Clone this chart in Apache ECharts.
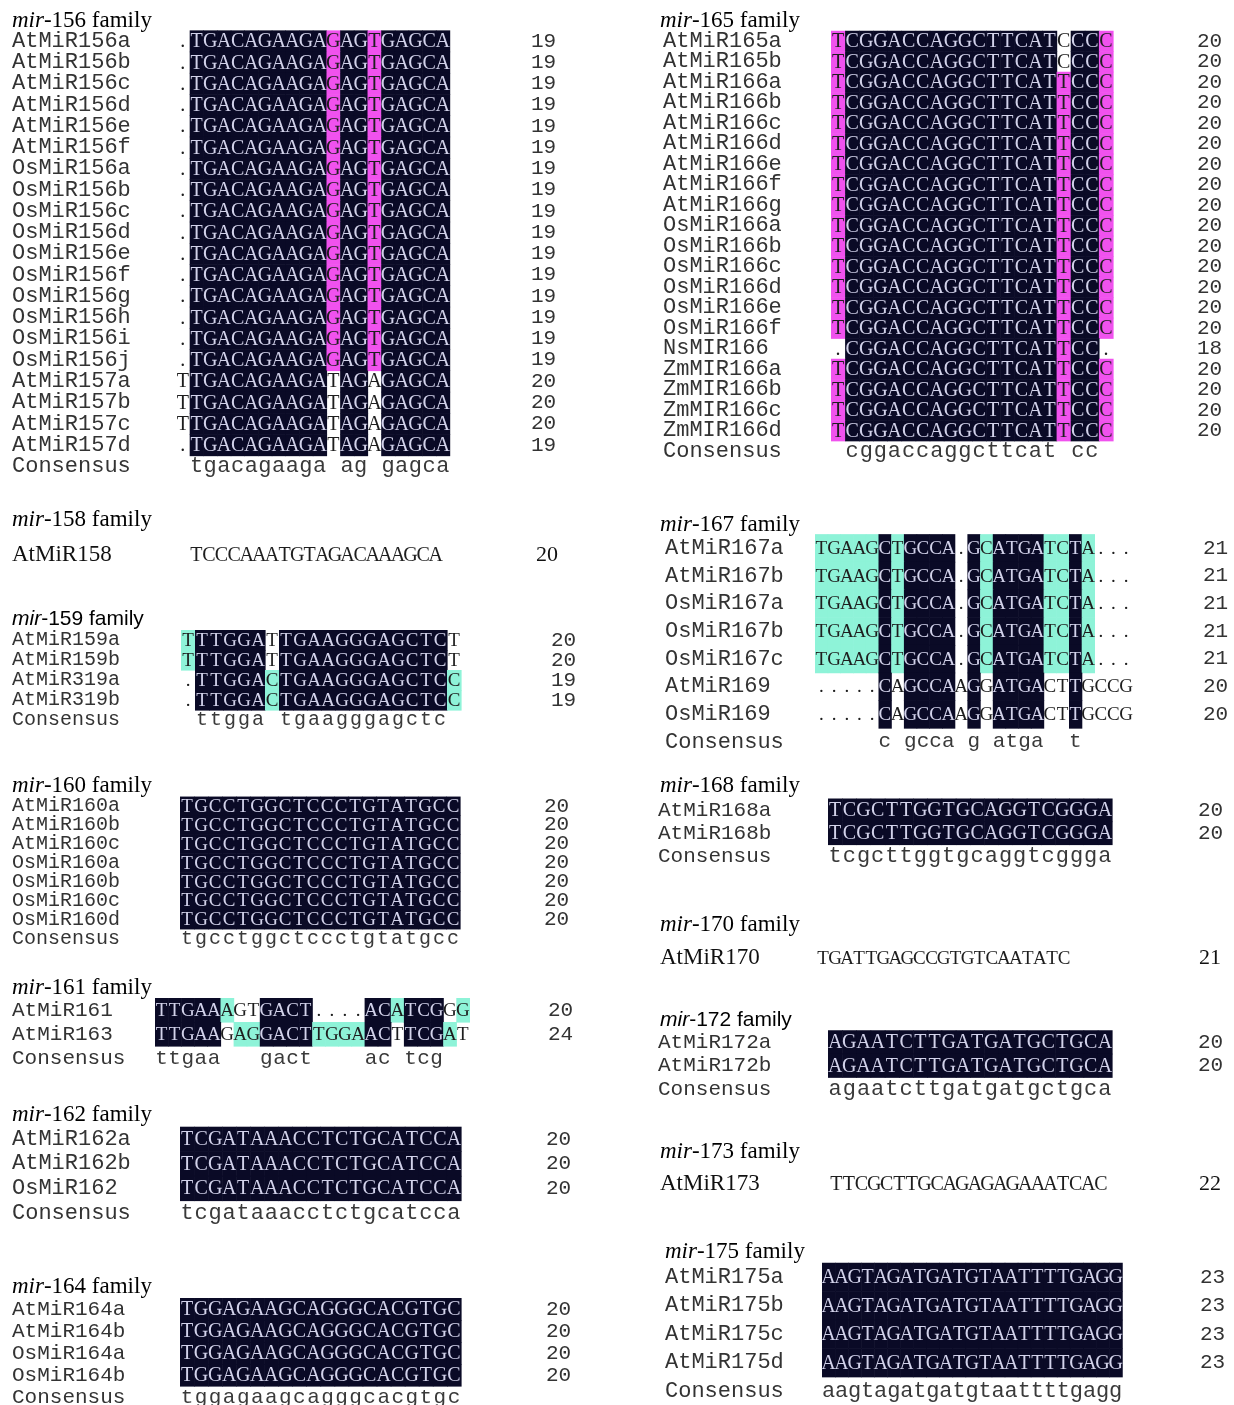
<!DOCTYPE html>
<html><head><meta charset="utf-8">
<script src="https://cdn.jsdelivr.net/npm/echarts/dist/echarts.min.js"></script>
<style>html,body{margin:0;padding:0;background:#fff}#c{width:1234px;height:1405px}</style>
</head><body><div id="c"></div>
<script>
// ---------------- DATA ----------------
const title156 = 'mir-156 family';
const names156 = ['AtMiR156a','AtMiR156b','AtMiR156c','AtMiR156d','AtMiR156e','AtMiR156f','OsMiR156a','OsMiR156b','OsMiR156c','OsMiR156d','OsMiR156e','OsMiR156f','OsMiR156g','OsMiR156h','OsMiR156i','OsMiR156j','AtMiR157a','AtMiR157b','AtMiR157c','AtMiR157d'];
const seqs156 = ['.TGACAGAAGAGAGTGAGCA','.TGACAGAAGAGAGTGAGCA','.TGACAGAAGAGAGTGAGCA','.TGACAGAAGAGAGTGAGCA','.TGACAGAAGAGAGTGAGCA','.TGACAGAAGAGAGTGAGCA','.TGACAGAAGAGAGTGAGCA','.TGACAGAAGAGAGTGAGCA','.TGACAGAAGAGAGTGAGCA','.TGACAGAAGAGAGTGAGCA','.TGACAGAAGAGAGTGAGCA','.TGACAGAAGAGAGTGAGCA','.TGACAGAAGAGAGTGAGCA','.TGACAGAAGAGAGTGAGCA','.TGACAGAAGAGAGTGAGCA','.TGACAGAAGAGAGTGAGCA','TTGACAGAAGATAGAGAGCA','TTGACAGAAGATAGAGAGCA','TTGACAGAAGATAGAGAGCA','.TGACAGAAGATAGAGAGCA'];
const lens156 = [19,19,19,19,19,19,19,19,19,19,19,19,19,19,19,19,20,20,20,19];
const cons156 = ' tgacagaaga ag gagca';

const title165 = 'mir-165 family';
const names165 = ['AtMiR165a','AtMiR165b','AtMiR166a','AtMiR166b','AtMiR166c','AtMiR166d','AtMiR166e','AtMiR166f','AtMiR166g','OsMiR166a','OsMiR166b','OsMiR166c','OsMiR166d','OsMiR166e','OsMiR166f','NsMIR166','ZmMIR166a','ZmMIR166b','ZmMIR166c','ZmMIR166d'];
const seqs165 = ['TCGGACCAGGCTTCATCCCC','TCGGACCAGGCTTCATCCCC','TCGGACCAGGCTTCATTCCC','TCGGACCAGGCTTCATTCCC','TCGGACCAGGCTTCATTCCC','TCGGACCAGGCTTCATTCCC','TCGGACCAGGCTTCATTCCC','TCGGACCAGGCTTCATTCCC','TCGGACCAGGCTTCATTCCC','TCGGACCAGGCTTCATTCCC','TCGGACCAGGCTTCATTCCC','TCGGACCAGGCTTCATTCCC','TCGGACCAGGCTTCATTCCC','TCGGACCAGGCTTCATTCCC','TCGGACCAGGCTTCATTCCC','.CGGACCAGGCTTCATTCC.','TCGGACCAGGCTTCATTCCC','TCGGACCAGGCTTCATTCCC','TCGGACCAGGCTTCATTCCC','TCGGACCAGGCTTCATTCCC'];
const lens165 = [20,20,20,20,20,20,20,20,20,20,20,20,20,20,20,18,20,20,20,20];
const cons165 = ' cggaccaggcttcat cc ';

const title158 = 'mir-158 family';
const names158 = ['AtMiR158'];
const seqs158 = ['TCCCAAATGTAGACAAAGCA'];
const lens158 = [20];

const title159 = 'mir-159 family';
const names159 = ['AtMiR159a','AtMiR159b','AtMiR319a','AtMiR319b'];
const seqs159 = ['TTTGGATTGAAGGGAGCTCT','TTTGGATTGAAGGGAGCTCT','.TTGGACTGAAGGGAGCTCC','.TTGGACTGAAGGGAGCTCC'];
const lens159 = [20,20,19,19];
const cons159 = ' ttgga tgaagggagctc ';

const title160 = 'mir-160 family';
const names160 = ['AtMiR160a','AtMiR160b','AtMiR160c','OsMiR160a','OsMiR160b','OsMiR160c','OsMiR160d'];
const seqs160 = ['TGCCTGGCTCCCTGTATGCC','TGCCTGGCTCCCTGTATGCC','TGCCTGGCTCCCTGTATGCC','TGCCTGGCTCCCTGTATGCC','TGCCTGGCTCCCTGTATGCC','TGCCTGGCTCCCTGTATGCC','TGCCTGGCTCCCTGTATGCC'];
const lens160 = [20,20,20,20,20,20,20];
const cons160 = 'tgcctggctccctgtatgcc';

const title161 = 'mir-161 family';
const names161 = ['AtMiR161','AtMiR163'];
const seqs161 = ['TTGAAAGTGACT....ACATCGGG','TTGAAGAGGACTTGGAACTTCGAT'];
const lens161 = [20,24];
const cons161 = 'ttgaa   gact    ac tcg  ';

const title162 = 'mir-162 family';
const names162 = ['AtMiR162a','AtMiR162b','OsMiR162'];
const seqs162 = ['TCGATAAACCTCTGCATCCA','TCGATAAACCTCTGCATCCA','TCGATAAACCTCTGCATCCA'];
const lens162 = [20,20,20];
const cons162 = 'tcgataaacctctgcatcca';

const title164 = 'mir-164 family';
const names164 = ['AtMiR164a','AtMiR164b','OsMiR164a','OsMiR164b'];
const seqs164 = ['TGGAGAAGCAGGGCACGTGC','TGGAGAAGCAGGGCACGTGC','TGGAGAAGCAGGGCACGTGC','TGGAGAAGCAGGGCACGTGC'];
const lens164 = [20,20,20,20];
const cons164 = 'tggagaagcagggcacgtgc';

const title167 = 'mir-167 family';
const names167 = ['AtMiR167a','AtMiR167b','OsMiR167a','OsMiR167b','OsMiR167c','AtMiR169','OsMiR169'];
const seqs167 = ['TGAAGCTGCCA.GCATGATCTA...','TGAAGCTGCCA.GCATGATCTA...','TGAAGCTGCCA.GCATGATCTA...','TGAAGCTGCCA.GCATGATCTA...','TGAAGCTGCCA.GCATGATCTA...','.....CAGCCAAGGATGACTTGCCG','.....CAGCCAAGGATGACTTGCCG'];
const lens167 = [21,21,21,21,21,20,20];
const cons167 = '     c gcca g atga  t    ';

const title168 = 'mir-168 family';
const names168 = ['AtMiR168a','AtMiR168b'];
const seqs168 = ['TCGCTTGGTGCAGGTCGGGA','TCGCTTGGTGCAGGTCGGGA'];
const lens168 = [20,20];
const cons168 = 'tcgcttggtgcaggtcggga';

const title170 = 'mir-170 family';
const names170 = ['AtMiR170'];
const seqs170 = ['TGATTGAGCCGTGTCAATATC'];
const lens170 = [21];

const title172 = 'mir-172 family';
const names172 = ['AtMiR172a','AtMiR172b'];
const seqs172 = ['AGAATCTTGATGATGCTGCA','AGAATCTTGATGATGCTGCA'];
const lens172 = [20,20];
const cons172 = 'agaatcttgatgatgctgca';

const title173 = 'mir-173 family';
const names173 = ['AtMiR173'];
const seqs173 = ['TTCGCTTGCAGAGAGAAATCAC'];
const lens173 = [22];

const title175 = 'mir-175 family';
const names175 = ['AtMiR175a','AtMiR175b','AtMiR175c','AtMiR175d'];
const seqs175 = ['AAGTAGATGATGTAATTTTGAGG','AAGTAGATGATGTAATTTTGAGG','AAGTAGATGATGTAATTTTGAGG','AAGTAGATGATGTAATTTTGAGG'];
const lens175 = [23,23,23,23];
const cons175 = 'aagtagatgatgtaattttgagg';

const families = [
  {key:'156', title:title156, names:names156, seqs:seqs156, lens:lens156, cons:cons156},
  {key:'165', title:title165, names:names165, seqs:seqs165, lens:lens165, cons:cons165},
  {key:'158', title:title158, names:names158, seqs:seqs158, lens:lens158, cons:null},
  {key:'159', title:title159, names:names159, seqs:seqs159, lens:lens159, cons:cons159},
  {key:'160', title:title160, names:names160, seqs:seqs160, lens:lens160, cons:cons160},
  {key:'161', title:title161, names:names161, seqs:seqs161, lens:lens161, cons:cons161},
  {key:'162', title:title162, names:names162, seqs:seqs162, lens:lens162, cons:cons162},
  {key:'164', title:title164, names:names164, seqs:seqs164, lens:lens164, cons:cons164},
  {key:'167', title:title167, names:names167, seqs:seqs167, lens:lens167, cons:cons167},
  {key:'168', title:title168, names:names168, seqs:seqs168, lens:lens168, cons:cons168},
  {key:'170', title:title170, names:names170, seqs:seqs170, lens:lens170, cons:null},
  {key:'172', title:title172, names:names172, seqs:seqs172, lens:lens172, cons:cons172},
  {key:'173', title:title173, names:names173, seqs:seqs173, lens:lens173, cons:null},
  {key:'175', title:title175, names:names175, seqs:seqs175, lens:lens175, cons:cons175}
];

// ---------------- LAYOUT / STYLE ----------------
const MONO = 'Liberation Mono';
const SERIF = 'Liberation Serif';
const SANS = 'Liberation Sans';
const layout = {
  '156': {tx:12, ty:21, tf:SERIF, nameX:12, y0:41, dy:21.26, x0:176, dx:13.68, numX:531, ns:22, ls:20, cs:22},
  '165': {tx:660, ty:21, tf:SERIF, nameX:663, y0:41, dy:20.5, x0:831, dx:14.1, numX:1197, ns:22, ls:20, cs:22},
  '158': {tx:12, ty:520, tf:SERIF, nameX:12, y0:555, dy:26, x0:190, dx:12.6, numX:536, single:true, ns:23, ls:20},
  '159': {tx:12, ty:619, tf:SANS, nameX:12, y0:640, dy:20, x0:181, dx:14.0, numX:551, ns:20, ls:19, cs:20},
  '160': {tx:12, ty:786, tf:SERIF, nameX:12, y0:806, dy:18.9, x0:180, dx:14.0, numX:544, ns:20, ls:19, cs:20},
  '161': {tx:12, ty:988, tf:SERIF, nameX:12, y0:1010, dy:24, x0:155, dx:13.1, numX:548, ns:21, ls:19, cs:21},
  '162': {tx:12, ty:1115, tf:SERIF, nameX:12, y0:1139, dy:24.6, x0:180, dx:14.05, numX:546, ns:22, ls:20, cs:22},
  '164': {tx:12, ty:1287, tf:SERIF, nameX:12, y0:1309, dy:22, x0:180, dx:14.05, numX:546, ns:21, ls:20, cs:21},
  '167': {tx:660, ty:525, tf:SERIF, nameX:665, y0:548, dy:27.7, x0:815, dx:12.7, numX:1203, ns:22, ls:19, cs:21},
  '168': {tx:660, ty:786, tf:SERIF, nameX:658, y0:810, dy:23, x0:828, dx:14.2, numX:1198, ns:21, ls:20, cs:22},
  '170': {tx:660, ty:925, tf:SERIF, nameX:660, y0:958, dy:26, x0:817, dx:12.05, numX:1199, single:true, ns:23, ls:19},
  '172': {tx:660, ty:1020, tf:SANS, nameX:658, y0:1042, dy:23.5, x0:828, dx:14.2, numX:1198, ns:21, ls:20, cs:22},
  '173': {tx:660, ty:1152, tf:SERIF, nameX:660, y0:1184, dy:26, x0:830, dx:12.6, numX:1199, single:true, ns:23, ls:20},
  '175': {tx:665, ty:1252, tf:SERIF, nameX:665, y0:1277, dy:28.5, x0:822, dx:13.05, numX:1200, ns:22, ls:20, cs:22}
};
const SHADE = {3:'#0a0a26', 2:'#f052ee', 1:'#8ef3d8'};
const TXT_ON_DARK = '#d2d2ea';
const TXT = '#1e1e1e';
const LABEL = '#333333';

// conservation level of each residue: 3 = identical in all rows, 2 = >=75%, 1 = >=50%
function levels(seqs){
  const n = seqs.length, L = seqs[0].length;
  const out = seqs.map(() => []);
  for (let c = 0; c < L; c++){
    const cnt = {};
    seqs.forEach(s => { const ch = s[c]; if (ch !== '.') cnt[ch] = (cnt[ch] || 0) + 1; });
    let best = null, bc = 0;
    Object.keys(cnt).sort().forEach(k => { if (cnt[k] > bc){ bc = cnt[k]; best = k; } });
    const f = bc / n;
    const lv = n < 2 ? 0 : (f === 1 ? 3 : f >= 0.75 ? 2 : f >= 0.5 ? 1 : 0);
    seqs.forEach((s, r) => out[r].push(s[c] === best ? lv : 0));
  }
  return out;
}

const grids = [], xAxes = [], yAxes = [], series = [], graphics = [];
families.forEach((f, i) => {
  const L = layout[f.key];
  const nCols = f.seqs[0].length;
  const nRows = f.names.length + (f.cons ? 1 : 0);
  const width = nCols * L.dx;
  grids.push({left:L.x0, top:L.y0 - L.dy/2, width:width, height:nRows*L.dy, containLabel:false, outerBoundsMode:'none'});
  const cols = []; for (let c = 0; c < nCols; c++) cols.push(String(c));
  xAxes.push({type:'category', gridIndex:i, data:cols, show:false});
  const nameFont = L.single ? SERIF : MONO;
  const common = {type:'category', gridIndex:i, inverse:true, axisLine:{show:false}, axisTick:{show:false}, splitLine:{show:false}};
  yAxes.push(Object.assign({}, common, {
    position:'left',
    data: f.names.concat(f.cons ? ['Consensus'] : []),
    axisLabel:{interval:0, margin:L.x0 - L.nameX, align:'left', fontFamily:nameFont, fontSize:L.ns, color:L.single ? '#111' : LABEL}
  }));
  yAxes.push(Object.assign({}, common, {
    position:'right',
    data: f.lens.map(String).concat(f.cons ? [''] : []),
    axisLabel:{interval:0, margin:L.numX - (L.x0 + width), align:'left', fontFamily:nameFont, fontSize:L.single ? 22 : 21, color:L.single ? '#111' : LABEL}
  }));
  const lv = levels(f.seqs);
  const items = [], chars = [];
  f.seqs.forEach((s, r) => {
    for (let c = 0; c < s.length; c++){ items.push([c, r, lv[r][c], 0]); chars.push(s[c]); }
  });
  if (f.cons){
    for (let c = 0; c < f.cons.length; c++){
      if (f.cons[c] !== ' '){ items.push([c, f.names.length, 0, 1]); chars.push(f.cons[c]); }
    }
  }
  series.push({
    type:'custom', xAxisIndex:i, yAxisIndex:2*i, data:items, silent:true, animation:false, clip:false,
    renderItem: function(params, api){
      const c = api.value(0), r = api.value(1), lvl = api.value(2), kind = api.value(3);
      const p = api.coord([c, r]);
      const s = api.size([1, 1]);
      const ch = chars[params.dataIndex];
      const children = [];
      if (lvl > 0){
        children.push({type:'rect', shape:{x:p[0]-s[0]/2, y:p[1]-s[1]/2, width:s[0]+0.6, height:s[1]+0.6}, style:{fill:SHADE[lvl]}});
      }
      const font = kind === 1 ? (L.cs + 'px "' + MONO + '"') : (L.ls + 'px "' + SERIF + '"');
      children.push({type:'text', style:{text:ch, x:p[0], y:p[1] + (kind === 1 ? 0 : 1), align:'center', verticalAlign:'middle', font:font,
        fill: lvl === 3 ? TXT_ON_DARK : (kind === 1 ? '#3a3a3a' : TXT)}});
      return {type:'group', children:children};
    }
  });
  const k = f.title.indexOf('-');
  graphics.push({type:'text', x:L.tx, y:L.ty, silent:true, style:{
    text:'{i|' + f.title.slice(0, k) + '}{n|' + f.title.slice(k) + '}',
    verticalAlign:'middle',
    rich:{
      i:{fontFamily:L.tf, fontStyle:'italic', fontSize:L.tf === SANS ? 21 : 23, fill:'#000'},
      n:{fontFamily:L.tf, fontSize:L.tf === SANS ? 21 : 23, fill:'#000'}
    }
  }});
});

const chart = echarts.init(document.getElementById('c'), null, {renderer:'canvas'});
chart.setOption({
  backgroundColor:'#ffffff',
  animation:false,
  grid:grids, xAxis:xAxes, yAxis:yAxes, series:series, graphic:graphics
});
</script></body></html>
